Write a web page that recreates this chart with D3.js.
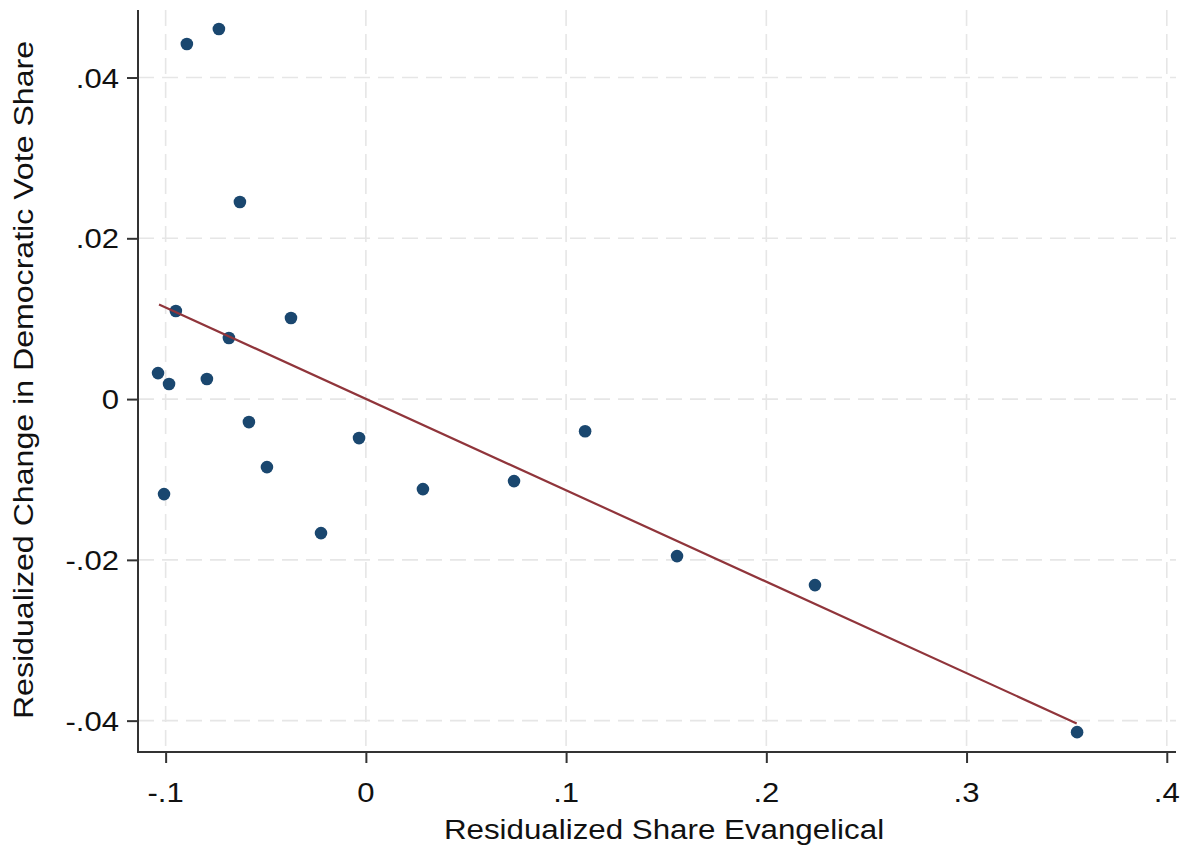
<!DOCTYPE html>
<html>
<head>
<meta charset="utf-8">
<script src="https://cdn.jsdelivr.net/npm/d3@7/dist/d3.min.js"></script>
<style>
  html, body { margin: 0; padding: 0; background: #ffffff; }
  svg { display: block; }
  text { font-family: "Liberation Sans", Arial, Helvetica, sans-serif; fill: #111; }
</style>
</head>
<body>
<svg id="chart" width="1187" height="852"></svg>
<script>
// ---- data ----
const evangelical = [-0.1038, -0.0983, -0.0949, -0.1008, -0.0894, -0.0734, -0.0794, -0.0684, -0.0629, -0.0584,
                     -0.0494, -0.0374, -0.0224, -0.0034, 0.0285, 0.0740, 0.1095, 0.1554, 0.2243, 0.3552];
const demChange   = [0.00323, 0.00187, 0.01095, -0.01182, 0.04417, 0.04603, 0.00249, 0.00759, 0.02451, -0.00286,
                     -0.00846, 0.01008, -0.01667, -0.00485, -0.0112, -0.0102, -0.0040, -0.01953, -0.02314, -0.04143];
const fitX = [-0.1033, 0.3550];
const fitY = [0.01178, -0.04035];
const xTicks = [-0.1, 0, 0.1, 0.2, 0.3, 0.4];
const xTickLabels = ["-.1", "0", ".1", ".2", ".3", ".4"];
const yTicks = [-0.04, -0.02, 0, 0.02, 0.04];
const yTickLabels = ["-.04", "-.02", "0", ".02", ".04"];
const xTitle = "Residualized Share Evangelical";
const yTitle = "Residualized Change in Democratic Vote Share";

(function () {
// ---- layout ----
const pLeft = 138, pRight = 1176, pTop = 10, pBottom = 752;
const fontSize = 27, stretch = 1.15;

const svg = d3.select("#chart");
const x = d3.scaleLinear().domain([-0.1138, 0.4066]).range([pLeft, 1180]);
const y = d3.scaleLinear().domain([-0.0439, 0.0484]).range([pBottom, pTop]);

// grid
const grid = svg.append("g").attr("stroke", "#e6e6e6").attr("stroke-width", 1.6)
  .attr("stroke-dasharray", "16,8").attr("fill", "none");
grid.selectAll("line.v").data(xTicks).join("line").attr("class", "v")
  .attr("x1", d => x(d)).attr("x2", d => x(d)).attr("y1", pTop).attr("y2", pBottom);
grid.selectAll("line.h").data(yTicks).join("line").attr("class", "h")
  .attr("y1", d => y(d)).attr("y2", d => y(d)).attr("x1", pLeft).attr("x2", pRight);

// axes (d3 axes, then styled)
const xAxis = svg.append("g").attr("transform", `translate(0,${pBottom})`)
  .call(d3.axisBottom(x).tickValues(xTicks).tickSize(11).tickFormat(() => ""));
const yAxis = svg.append("g").attr("transform", `translate(${pLeft},0)`)
  .call(d3.axisLeft(y).tickValues(yTicks).tickSize(11).tickFormat(() => ""));
[xAxis, yAxis].forEach(a => {
  a.select(".domain").remove();
  a.selectAll(".tick line").attr("stroke", "#333").attr("stroke-width", 2);
});
svg.append("line").attr("x1", pLeft).attr("x2", pRight).attr("y1", pBottom).attr("y2", pBottom)
  .attr("stroke", "#333").attr("stroke-width", 2);
svg.append("line").attr("x1", pLeft).attr("x2", pLeft).attr("y1", pTop).attr("y2", pBottom + 1)
  .attr("stroke", "#333").attr("stroke-width", 2);

// tick labels
svg.append("g").selectAll("text").data(xTicks).join("text")
  .attr("transform", d => `translate(${x(d)},802) scale(${stretch},1)`)
  .attr("text-anchor", "middle").attr("font-size", fontSize)
  .text((d, i) => xTickLabels[i]);
svg.append("g").selectAll("text").data(yTicks).join("text")
  .attr("transform", d => `translate(119,${y(d) + 10}) scale(${stretch},1)`)
  .attr("text-anchor", "end").attr("font-size", fontSize)
  .text((d, i) => yTickLabels[i]);

// titles
svg.append("text").attr("transform", `translate(664,839) scale(1.16,1)`)
  .attr("text-anchor", "middle").attr("font-size", fontSize).text(xTitle);
svg.append("text").attr("transform", `translate(33,380) rotate(-90) scale(1.19,1)`)
  .attr("text-anchor", "middle").attr("font-size", fontSize).text(yTitle);

// points
svg.append("g").selectAll("circle").data(evangelical).join("circle")
  .attr("cx", d => x(d)).attr("cy", (d, i) => y(demChange[i])).attr("r", 6.3)
  .attr("fill", "#1a476f");

// fitted line
svg.append("path").datum(fitX.map((d, i) => [d, fitY[i]]))
  .attr("d", d3.line().x(d => x(d[0])).y(d => y(d[1])))
  .attr("fill", "none").attr("stroke", "#90353b").attr("stroke-width", 2.2);
})();
</script>
</body>
</html>
